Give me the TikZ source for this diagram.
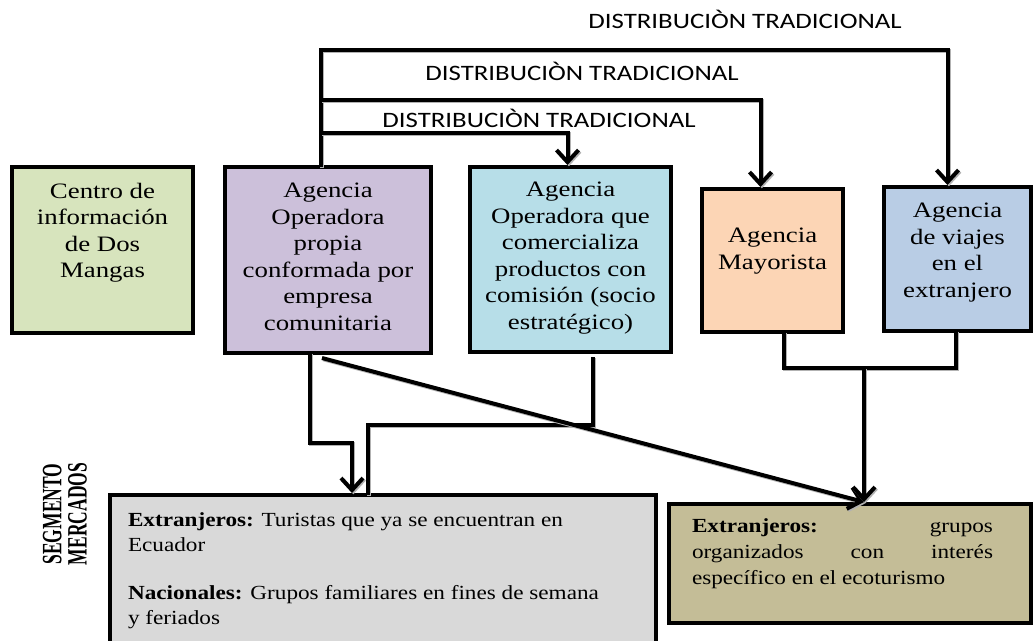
\documentclass[tikz,border=0pt]{standalone}
\usepackage{fontspec}
\usepackage{graphicx}
\usetikzlibrary{arrows.meta,calc}
\newfontfamily\serifst{Liberation Serif}[FakeStretch=1.22]
\newfontfamily\seriflow{Liberation Serif}[FakeStretch=1.16]
\newfontfamily\serifpl{Liberation Serif}
\newfontfamily\lblfont{Carlito}[FakeStretch=1.22]
\definecolor{cgreen}{HTML}{D7E4BD}
\definecolor{cpurple}{HTML}{CCC0DA}
\definecolor{clblue}{HTML}{B7DEE8}
\definecolor{corange}{HTML}{FCD5B5}
\definecolor{cblue}{HTML}{B9CDE5}
\definecolor{cgrey}{HTML}{D9D9D9}
\definecolor{ckhaki}{HTML}{C4BD97}
\newcommand\bxt[4]{\parbox[c][#2][t]{#1}{\vspace*{#3}#4}}
\tikzset{
  box/.style={draw=black, line width=4.5pt, inner sep=0pt, outer sep=0pt, anchor=north west,
    font=\serifst\fontsize{22}{26.5}\selectfont},
  lowbox/.style={box, font=\seriflow\fontsize{20}{25}\selectfont},
  conn/.style={draw=black, line width=4pt,
    preaction={draw=black!30, line width=4pt, transform canvas={shift={(1.3pt,-1.3pt)}}}},
  arr/.style={conn, -{Straight Barb[length=12pt,width=22pt]}},
  lbl/.style={font=\lblfont\fontsize{22}{26}\selectfont, anchor=base, inner sep=0pt}
}
\begin{document}
\begin{tikzpicture}[x=1pt,y=-1pt]
\clip (0,0) rectangle (1035,640);
\fill[white] (0,0) rectangle (1035,640);

% top boxes
\node[box, fill=cgreen] (green) at (12,167)
  {\bxt{181pt}{166pt}{16pt}{\centering Centro de\\información\\de Dos\\Mangas}};
\node[box, fill=cpurple] (purple) at (225,167)
  {\bxt{206pt}{186pt}{16pt}{\centering Agencia\\Operadora\\propia\\conformada por\\empresa\\comunitaria}};
\node[box, fill=clblue] (lb) at (470,167)
  {\bxt{201pt}{185pt}{15pt}{\centering Agencia\\Operadora que\\comercializa\\productos con\\comisión (socio\\estratégico)}};
\node[box, fill=corange] (orange) at (702,189)
  {\bxt{141pt}{143pt}{39pt}{\centering Agencia\\Mayorista}};
\node[box, fill=cblue] (blue) at (884,187)
  {\bxt{147pt}{144pt}{16pt}{\centering Agencia\\de viajes\\en el\\extranjero}};

% bottom boxes
\node[lowbox, fill=cgrey] (grey) at (110,495)
  {\bxt{546pt}{205pt}{18pt}{\raggedright\leftskip=18pt
   \textbf{Extranjeros:} Turistas que ya se encuentran en\\
   Ecuador\\[23pt]
   \textbf{Nacionales:} Grupos familiares en fines de semana\\
   y feriados}};
\node[lowbox, fill=ckhaki, font=\seriflow\fontsize{20}{26}\selectfont] (khaki) at (669,504)
  {\bxt{362pt}{119pt}{15pt}{\leftskip=23pt\rightskip=38pt\parfillskip=0pt plus 1fil
   \textbf{Extranjeros:} grupos\linebreak organizados con interés\linebreak específico en el ecoturismo}};

% side label
\node[rotate=90, inner sep=0pt, font=\serifpl\bfseries\fontsize{17.5}{14}\selectfont] (seg) at (68,514)
  {\scalebox{1}[1.6]{\begin{tabular}{@{}c@{}}SEGMENTO\\MERCADOS\end{tabular}}};

% distribution labels
\node[lbl] (l1) at (745,28) {DISTRIBUCIÒN TRADICIONAL};
\node[lbl] (l2) at (582,80) {DISTRIBUCIÒN TRADICIONAL};
\node[lbl] (l3) at (539,127) {DISTRIBUCIÒN TRADICIONAL};

% top connectors
\coordinate (t1) at (0,50);
\coordinate (t2) at (0,100);
\coordinate (t3) at (0,133);
\coordinate (pt) at ([xshift=-7pt]purple.north);
\coordinate (bt) at ([xshift=-10pt,yshift=2pt]blue.north);
\coordinate (ot) at ([xshift=-12pt,yshift=2pt]orange.north);
\coordinate (lt) at ([xshift=-3pt,yshift=2pt]lb.north);
\draw[arr] (pt) |- (bt |- t1) -- (bt);
\draw[arr] (pt |- t2) -| (ot);
\draw[arr] (pt |- t3) -| (lt);

% lower connectors
\coordinate (ps) at ([xshift=-18pt]purple.south);
\coordinate (c1) at (352,443);
\coordinate (g1) at (c1 |- grey.north);
\draw[arr] (ps) |- (c1) -- ([yshift=2pt]g1);

\coordinate (ls) at ([xshift=22pt,yshift=-5pt]lb.south);
\coordinate (c2) at (368,425);
\draw[conn] (ls) |- (c2) -- (c2 |- grey.north);

\coordinate (kt) at ([xshift=14pt,yshift=2pt]khaki.north);
\coordinate (pd) at ([xshift=-6pt,yshift=-5pt]purple.south);
\draw[arr] (pd) -- (kt);

\coordinate (os) at ([xshift=11pt]orange.south);
\coordinate (bs) at ([xshift=-2pt]blue.south);
\coordinate (c3) at (kt |- 0,368);
\draw[conn] (os) |- (c3) -| (bs);
\draw[arr] (c3) -- (kt);
\end{tikzpicture}
\end{document}
